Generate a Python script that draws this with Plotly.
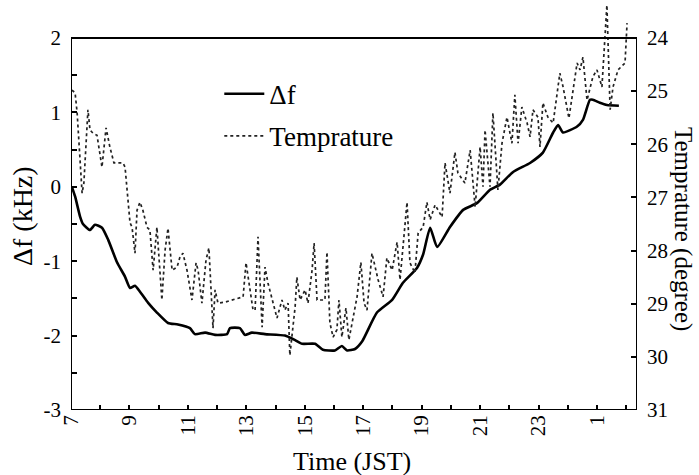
import plotly.graph_objects as go

# Δf series (time in hours JST; values after midnight continue as 24+)
df_time = [7.03, 7.14, 7.31, 7.41, 7.65, 7.82, 8.06, 8.27, 8.57, 8.85, 9.02, 9.19, 9.36, 9.64,
           9.94, 10.32, 10.66, 11.07, 11.24, 11.59, 11.93, 12.34, 12.44, 12.78, 12.95, 13.19,
           13.64, 14.32, 14.67, 14.91, 15.35, 15.62, 16.03, 16.27, 16.45, 16.72, 16.96, 17.47,
           17.99, 18.36, 18.84, 19.05, 19.29, 19.53, 19.97, 20.42, 20.89, 21.34, 21.68, 22.13,
           22.71, 23.15, 23.50, 23.67, 23.84, 24.32, 24.52, 24.76, 24.86, 25.10, 25.34, 25.75]
df_khz = [0.00, -0.13, -0.40, -0.50, -0.58, -0.51, -0.55, -0.71, -1.01, -1.21, -1.36, -1.33, -1.41, -1.56,
          -1.69, -1.83, -1.85, -1.90, -1.98, -1.96, -1.99, -1.98, -1.90, -1.90, -1.99, -1.96,
          -1.98, -2.00, -2.06, -2.11, -2.11, -2.19, -2.20, -2.14, -2.20, -2.18, -2.08, -1.69,
          -1.52, -1.29, -1.09, -0.91, -0.55, -0.81, -0.54, -0.31, -0.22, -0.04, 0.03, 0.20,
          0.32, 0.46, 0.73, 0.83, 0.73, 0.81, 0.90, 1.17, 1.17, 1.13, 1.10, 1.09]

# Temperature series
temp_time = [7.03, 7.14, 7.21, 7.38, 7.44, 7.58, 7.65, 7.75, 7.89, 8.06, 8.20, 8.33, 8.47, 8.78, 8.85,
             9.02, 9.09, 9.19, 9.26, 9.36, 9.46, 9.60, 9.70, 9.81, 9.94, 10.11, 10.22, 10.32, 10.46,
             10.63, 10.73, 10.83, 10.97, 11.14, 11.28, 11.35, 11.48, 11.62, 11.72, 11.83, 11.86,
             11.93, 12.03, 12.27, 12.72, 12.89, 12.99, 13.06, 13.23, 13.30, 13.40, 13.54, 13.64,
             13.74, 14.05, 14.22, 14.32, 14.43, 14.49, 14.67, 14.73, 14.84, 15.01, 15.11, 15.25,
             15.32, 15.42, 15.69, 15.76, 15.86, 15.97, 16.10, 16.17, 16.27, 16.41, 16.51, 16.62,
             16.79, 16.92, 17.03, 17.13, 17.30, 17.51, 17.68, 17.81, 17.99, 18.16, 18.26, 18.50,
             18.60, 18.77, 18.88, 19.05, 19.18, 19.29, 19.46, 19.70, 19.80, 19.97, 20.14, 20.24,
             20.48, 20.66, 20.83, 21.00, 21.10, 21.17, 21.34, 21.44, 21.61, 21.75, 21.92, 22.09,
             22.19, 22.30, 22.43, 22.61, 22.71, 22.81, 22.98, 23.05, 23.15, 23.32, 23.50, 23.73,
             23.84, 24.04, 24.32, 24.42, 24.52, 24.66, 24.86, 25.00, 25.17, 25.34, 25.45, 25.55,
             25.72, 25.96, 26.03]
temp_deg = [24.98, 25.03, 25.41, 26.92, 26.73, 25.35, 25.73, 25.79, 25.83, 26.43, 25.69, 26.05, 26.35, 26.35, 26.43,
            27.48, 27.56, 28.05, 27.24, 27.09, 27.24, 27.56, 27.61, 28.37, 27.56, 28.93, 27.99, 27.58, 28.37,
            28.31, 28.12, 28.05, 28.37, 28.93, 28.23, 28.37, 28.99, 28.18, 27.95, 28.99, 29.46,
            28.74, 28.99, 28.97, 28.89, 28.87, 28.23, 28.50, 29.12, 29.12, 27.74, 29.44, 28.31,
            28.61, 29.27, 28.93, 29.12, 28.99, 29.97, 29.06, 28.50, 28.93, 28.74, 28.99, 28.37,
            27.86, 28.93, 28.93, 28.03, 29.36, 29.63, 29.49, 28.93, 29.63, 29.08, 29.68, 29.36,
            28.87, 28.22, 28.99, 29.12, 28.05, 28.55, 28.87, 28.14, 28.37, 27.84, 28.55, 27.09,
            28.23, 28.42, 27.67, 27.56, 27.09, 27.42, 27.14, 27.37, 26.35, 26.92, 26.15, 26.54,
            26.73, 26.11, 27.18, 26.05, 26.80, 25.73, 26.80, 25.41, 26.86, 25.98, 25.49, 25.98,
            25.07, 25.98, 25.30, 25.60, 25.86, 25.35, 25.49, 26.05, 25.22, 25.49, 25.60, 24.66,
            24.92, 25.51, 24.47, 24.60, 24.36, 25.17, 24.73, 24.60, 24.92, 23.38, 25.35, 24.92,
            24.60, 24.47, 23.72]

x_tickvals = [7, 9, 11, 13, 15, 17, 19, 21, 23, 25]
x_ticktext = ["7", "9", "11", "13", "15", "17", "19", "21", "23", "1"]
x_minor = [8, 10, 12, 14, 16, 18, 20, 22, 24, 26]
y_tickvals = [-3, -2, -1, 0, 1, 2]
y_ticktext = ["-3", "-2", "-1", "0", "1", "2"]
y_minor = [-2.5, -1.5, -0.5, 0.5, 1.5]
y2_tickvals = [24, 25, 26, 27, 28, 29, 30, 31]

X_MIN, X_MAX = 7, 26.37
Y_MIN, Y_MAX = -3, 2
Y_TOP = 2.511          # extra headroom above frame so the spike is visible
T_BOTTOM, T_TOP = 31, 23.285

FONT = "Liberation Serif, Times New Roman, serif"

fig = go.Figure()
fig.add_trace(go.Scatter(x=df_time, y=df_khz, mode="lines", name="Δf",
                         line=dict(color="black", width=2.6, shape="spline", smoothing=0.5),
                         legendgroup="a"))
fig.add_trace(go.Scatter(x=temp_time, y=temp_deg, mode="lines", name="Temprature", yaxis="y2",
                         line=dict(color="#222222", width=1.7, dash="dot"), legendgroup="b"))

fig.add_shape(type="rect", xref="x", yref="y", x0=X_MIN, x1=X_MAX, y0=Y_MIN, y1=Y_MAX,
              line=dict(color="black", width=2), layer="above")

fig.update_layout(
    width=699, height=475,
    margin=dict(l=71, r=62, t=0, b=65),
    paper_bgcolor="white", plot_bgcolor="white",
    font=dict(family=FONT, color="black", size=20),
    showlegend=True,
    legend=dict(x=0.262, y=0.83, xanchor="left", yanchor="top", bgcolor="rgba(0,0,0,0)",
                font=dict(size=27, family=FONT), tracegroupgap=4, itemwidth=40),
    xaxis=dict(range=[X_MIN, X_MAX], tickvals=x_tickvals, ticktext=x_ticktext, tickangle=-90,
               ticks="inside", ticklen=5, tickwidth=1.5, tickcolor="black",
               minor=dict(tickvals=x_minor, ticks="inside", ticklen=5, tickwidth=1.5, tickcolor="black"),
               showgrid=False, zeroline=False, showline=False,
               tickfont=dict(size=21, family=FONT)),
    yaxis=dict(range=[Y_MIN, Y_TOP], tickvals=y_tickvals, ticktext=y_ticktext,
               ticks="inside", ticklen=6, tickwidth=1.5,
               tickcolor="black", ticklabelstandoff=9,
               minor=dict(tickvals=y_minor, ticks="inside", ticklen=6, tickwidth=1.5, tickcolor="black"),
               showgrid=False, zeroline=False, showline=False,
               tickfont=dict(size=21, family=FONT)),
    yaxis2=dict(range=[T_BOTTOM, T_TOP], tickvals=y2_tickvals, overlaying="y", side="right",
                ticks="inside", ticklen=6, tickwidth=1.5, tickcolor="black", ticklabelstandoff=9,
                showgrid=False, zeroline=False, showline=False,
                tickfont=dict(size=21, family=FONT)),
    annotations=[
        dict(text="Δf (kHz)", xref="paper", yref="paper", x=(22 - 71) / 566, y=1 - 216 / 410,
             showarrow=False, textangle=-90, font=dict(size=28, family=FONT),
             xanchor="center", yanchor="middle"),
        dict(text="Temprature (degree)", xref="paper", yref="paper", x=(683 - 71) / 566, y=1 - 229 / 410,
             showarrow=False, textangle=90, font=dict(size=25, family=FONT),
             xanchor="center", yanchor="middle"),
        dict(text="Time (JST)", xref="paper", yref="paper", x=(352 - 71) / 566, y=1 - 462 / 410,
             showarrow=False, font=dict(size=26, family=FONT),
             xanchor="center", yanchor="middle"),
    ],
)

fig.write_html("out.html")
